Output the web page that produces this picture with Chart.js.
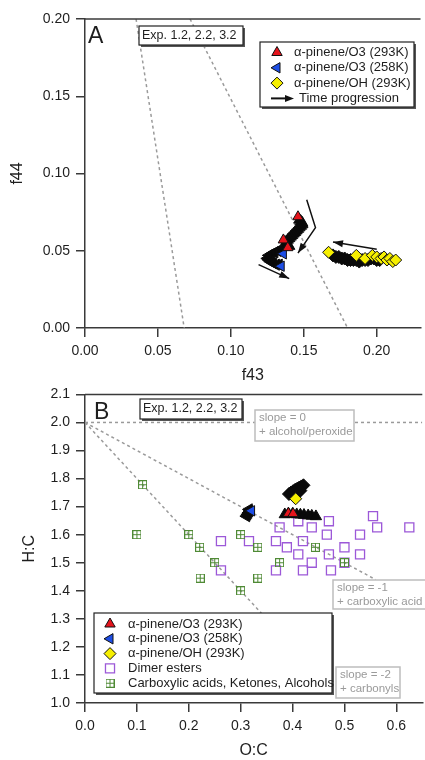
<!DOCTYPE html>
<html>
<head>
<meta charset="utf-8">
<script src="https://cdn.jsdelivr.net/npm/chart.js@4.4.0/dist/chart.umd.min.js"></script>
<style>
  html, body { margin: 0; padding: 0; background: #fff; overflow: hidden; width: 425px; height: 760px; }
  #chartA { position: absolute; left: 0; top: 0; }
  #chartB { position: absolute; left: 0; top: 380px; }
</style>
</head>
<body>
<canvas id="chartA" width="428" height="385"></canvas>
<canvas id="chartB" width="430" height="380"></canvas>
<script>
// ---- Panel A data (f43 vs f44) ----
const f43Ticks = [0, 0.05, 0.10, 0.15, 0.20];
const f44Ticks = [0, 0.05, 0.10, 0.15, 0.20];

const triLeftF43 = [0.035, 0.068];
const triLeftF44 = [0.20, 0.00];
const triRightF43 = [0.072, 0.180];
const triRightF44 = [0.20, 0.00];

// alpha-pinene/O3 293K: dense trace + visible coloured markers
const o3WarmTraceF43 = [0.147, 0.148, 0.149, 0.149, 0.148, 0.147, 0.146, 0.145, 0.144, 0.143, 0.142, 0.141, 0.140, 0.139, 0.138, 0.138, 0.139, 0.140];
const o3WarmTraceF44 = [0.070, 0.069, 0.068, 0.067, 0.066, 0.065, 0.064, 0.063, 0.062, 0.061, 0.060, 0.059, 0.058, 0.057, 0.056, 0.055, 0.054, 0.053];
const o3WarmF43 = [0.146, 0.136, 0.139];
const o3WarmF44 = [0.072, 0.057, 0.052];

// alpha-pinene/O3 258K
const o3ColdTraceF43 = [0.134, 0.132, 0.130, 0.128, 0.126, 0.125, 0.126, 0.127, 0.129, 0.131, 0.133];
const o3ColdTraceF44 = [0.050, 0.050, 0.049, 0.048, 0.047, 0.045, 0.044, 0.043, 0.042, 0.041, 0.041];
const o3ColdF43 = [0.136, 0.1345];
const o3ColdF44 = [0.048, 0.040];

// alpha-pinene/OH 293K
const ohTraceF43 = [0.170, 0.172, 0.174, 0.176, 0.178, 0.180, 0.182, 0.184, 0.186, 0.188, 0.190, 0.192, 0.194, 0.196, 0.198, 0.200, 0.202];
const ohTraceF44 = [0.047, 0.046, 0.046, 0.045, 0.045, 0.044, 0.044, 0.044, 0.044, 0.043, 0.044, 0.044, 0.044, 0.045, 0.045, 0.044, 0.044];
const ohF43 = [0.167, 0.186, 0.192, 0.197, 0.200, 0.203, 0.205, 0.207, 0.209, 0.211, 0.213];
const ohF44 = [0.049, 0.047, 0.045, 0.047, 0.046, 0.045, 0.046, 0.044, 0.045, 0.043, 0.044];

// time progression arrows
const arrowWarmF43 = [0.152, 0.158, 0.146];
const arrowWarmF44 = [0.083, 0.065, 0.0485];
const arrowColdF43 = [0.119, 0.140];
const arrowColdF44 = [0.041, 0.032];
const arrowOhF43 = [0.200, 0.170];
const arrowOhF44 = [0.051, 0.0556];

// ---- Panel B data (O:C vs H:C) ----
const ocTicks = [0, 0.1, 0.2, 0.3, 0.4, 0.5, 0.6];
const hcTicks = [1.0, 1.1, 1.2, 1.3, 1.4, 1.5, 1.6, 1.7, 1.8, 1.9, 2.0, 2.1];

const slope0OC = [0, 0.65];
const slope0HC = [2.0, 2.0];
const slope1OC = [0, 0.56];
const slope1HC = [2.0, 1.44];
const slope2OC = [0, 0.34];
const slope2HC = [2.0, 1.32];

const bWarmTraceOC = [0.385, 0.392, 0.400, 0.408, 0.415, 0.422, 0.430, 0.437, 0.445];
const bWarmTraceHC = [1.672, 1.675, 1.674, 1.672, 1.671, 1.670, 1.668, 1.667, 1.665];
const bWarmOC = [0.392, 0.401];
const bWarmHC = [1.676, 1.675];

const bColdTraceOC = [0.311, 0.313, 0.315, 0.317, 0.316];
const bColdTraceHC = [1.666, 1.672, 1.678, 1.684, 1.690];
const bColdOC = [0.321];
const bColdHC = [1.685];

const bOhTraceOC = [0.393, 0.397, 0.401, 0.405, 0.409, 0.413, 0.417, 0.421, 0.410, 0.415];
const bOhTraceHC = [1.745, 1.750, 1.755, 1.760, 1.764, 1.768, 1.772, 1.776, 1.752, 1.757];
const bOhOC = [0.406];
const bOhHC = [1.728];

const dimerOC = [0.262, 0.262, 0.316, 0.368, 0.368, 0.375, 0.389, 0.411, 0.411, 0.420, 0.420, 0.437,
                 0.437, 0.466, 0.470, 0.470, 0.474, 0.500, 0.500, 0.530, 0.530, 0.555, 0.563, 0.625];
const dimerHC = [1.577, 1.473, 1.577, 1.577, 1.473, 1.626, 1.555, 1.648, 1.530, 1.577, 1.473, 1.626,
                 1.500, 1.600, 1.648, 1.530, 1.473, 1.555, 1.500, 1.600, 1.530, 1.666, 1.626, 1.626];

const acidOC = [0.111, 0.100, 0.200, 0.221, 0.250, 0.222, 0.300, 0.300, 0.333, 0.333, 0.375, 0.444, 0.500];
const acidHC = [1.778, 1.600, 1.600, 1.555, 1.500, 1.445, 1.600, 1.400, 1.555, 1.445, 1.500, 1.555, 1.500];

const seriesNames = ['\u03b1-pinene/O3 (293K)', '\u03b1-pinene/O3 (258K)', '\u03b1-pinene/OH (293K)',
                     'Dimer esters', 'Carboxylic acids, Ketones, Alcohols'];
const expLabel = 'Exp. 1.2, 2.2, 3.2';

// ---- styles ----
const FONT = '"Liberation Sans", Arial, sans-serif';
const INK = '#1e1e1e';
const AXIS = '#3a3a3a';
const DASH = '#9a9a9a';
const RED = '#e5141c';
const BLUE = '#1d4ee6';
const YELLOW = '#f6ef00';
const PURPLE = '#9c58d8';
const GREEN = '#4f8a35';

const pts = (xs, ys) => xs.map((x, i) => ({ x: x, y: ys[i] }));

function boxedPlus(size, color) {
  const c = document.createElement('canvas');
  c.width = size; c.height = size;
  const g = c.getContext('2d');
  g.strokeStyle = color; g.lineWidth = 1;
  g.strokeRect(0.5, 0.5, size - 1, size - 1);
  g.beginPath();
  g.moveTo(size / 2, 0.5); g.lineTo(size / 2, size - 0.5);
  g.moveTo(0.5, size / 2); g.lineTo(size - 0.5, size / 2);
  g.stroke();
  return c;
}
const plusBox = boxedPlus(9, GREEN);

const mk = {
  red:    { pointStyle: 'triangle', radius: 6, rotation: 0,   fill: RED,    stroke: '#111', bw: 1 },
  blue:   { pointStyle: 'triangle', radius: 6, rotation: -90, fill: BLUE,   stroke: '#111', bw: 1 },
  yellow: { pointStyle: 'rectRot',  radius: 6, rotation: 0,   fill: YELLOW, stroke: '#111', bw: 1 },
  purple: { pointStyle: 'rect',     radius: 6.4, rotation: 0, fill: 'rgba(0,0,0,0)', stroke: PURPLE, bw: 1.3 },
  green:  { pointStyle: plusBox,    radius: 5, rotation: 0,   fill: GREEN,  stroke: GREEN, bw: 1 }
};

function scatterSet(data, m) {
  return {
    data: data, showLine: false,
    pointStyle: m.pointStyle, pointRadius: m.radius, pointRotation: m.rotation,
    pointBackgroundColor: m.fill, pointBorderColor: m.stroke, pointBorderWidth: m.bw
  };
}
function traceSet(data, m) {
  return {
    data: data, showLine: false,
    pointStyle: m.pointStyle, pointRadius: m.radius + 0.5, pointRotation: m.rotation,
    pointBackgroundColor: '#0a0a0a', pointBorderColor: '#0a0a0a', pointBorderWidth: 1
  };
}
function lineSet(data, color, width, dash, arrow) {
  return {
    data: data, showLine: true, fill: false, pointRadius: 0,
    borderColor: color, borderWidth: width, borderDash: dash || [], arrow: !!arrow
  };
}

function axis(min, max, vals, digits, title, isY, tpad) {
  return {
    type: 'linear', min: min, max: max,
    afterBuildTicks: s => { s.ticks = vals.map(v => ({ value: v })); },
    afterFit: s => { if (isY) s.width = 85; else s.height = 57; },
    grid: { display: true, drawOnChartArea: false, drawTicks: true, tickLength: 9, color: AXIS, lineWidth: 1.5 },
    border: { display: true, color: AXIS, width: 1.5 },
    ticks: { color: INK, font: { family: FONT, size: 14 }, padding: 6, maxRotation: 0, autoSkip: false,
             callback: v => v.toFixed(digits) },
    title: { display: true, text: title, color: INK, font: { family: FONT, size: 16 },
             padding: { top: tpad, bottom: 0 } }
  };
}

// ---- drawing helpers ----
function drawMarker(ctx, m, x, y) {
  ctx.save();
  ctx.fillStyle = m.fill; ctx.strokeStyle = m.stroke; ctx.lineWidth = m.bw;
  Chart.helpers.drawPoint(ctx, { pointStyle: m.pointStyle, radius: m.radius, rotation: m.rotation, borderWidth: m.bw }, x, y);
  ctx.restore();
}
function drawHead(ctx, x, y, ang, len, half) {
  ctx.save();
  ctx.translate(x, y); ctx.rotate(ang);
  ctx.fillStyle = '#111';
  ctx.beginPath();
  ctx.moveTo(0, 0); ctx.lineTo(-len, -half); ctx.lineTo(-len, half);
  ctx.closePath(); ctx.fill();
  ctx.restore();
}
function shadowBox(ctx, x, y, w, h) {
  ctx.save();
  ctx.fillStyle = '#555';
  ctx.fillRect(x + 2, y + 2, w, h);
  ctx.fillStyle = '#fff';
  ctx.fillRect(x, y, w, h);
  ctx.strokeStyle = '#222'; ctx.lineWidth = 1.2;
  ctx.strokeRect(x, y, w, h);
  ctx.restore();
}
function greyBox(ctx, x, y, w, h, lines) {
  ctx.save();
  ctx.fillStyle = '#fff';
  ctx.fillRect(x, y, w, h);
  ctx.strokeStyle = '#bdbdbd'; ctx.lineWidth = 1.5;
  ctx.strokeRect(x, y, w, h);
  ctx.fillStyle = '#9a9a9a'; ctx.font = '11.5px ' + FONT;
  ctx.textBaseline = 'middle'; ctx.textAlign = 'left';
  lines.forEach((t, i) => ctx.fillText(t, x + 4, y + 8 + i * 13.5));
  ctx.restore();
}
function text(ctx, t, x, y, size) {
  ctx.save();
  ctx.fillStyle = INK; ctx.font = size + 'px ' + FONT;
  ctx.textBaseline = 'middle'; ctx.textAlign = 'left';
  ctx.fillText(t, x, y);
  ctx.restore();
}
function frameTop(ctx, a) {
  ctx.save();
  ctx.strokeStyle = AXIS; ctx.lineWidth = 1.5;
  ctx.beginPath(); ctx.moveTo(a.left, a.top); ctx.lineTo(a.right, a.top); ctx.stroke();
  ctx.restore();
}

// arrowheads at the end of datasets flagged as arrows
const arrowHeads = {
  id: 'arrowHeads',
  afterDatasetsDraw(chart) {
    chart.data.datasets.forEach((ds, i) => {
      if (!ds.arrow) return;
      const p = chart.getDatasetMeta(i).data;
      const a = p[p.length - 2], b = p[p.length - 1];
      drawHead(chart.ctx, b.x, b.y, Math.atan2(b.y - a.y, b.x - a.x), 10, 3.5);
    });
  }
};

const panelA = {
  id: 'panelA',
  afterDraw(chart) {
    const ctx = chart.ctx;
    frameTop(ctx, chart.chartArea);
    text(ctx, 'A', 88, 37, 23);
    shadowBox(ctx, 139, 26, 104, 19);
    text(ctx, expLabel, 142, 35.5, 12.5);
    shadowBox(ctx, 260, 42, 154, 65);
    const rows = [mk.red, mk.blue, mk.yellow];
    rows.forEach((m, i) => {
      drawMarker(ctx, m, 277, 52.5 + i * 15.3);
      text(ctx, seriesNames[i], 294, 52.5 + i * 15.3, 13);
    });
    const ya = 52.5 + 3 * 15.3;
    ctx.save();
    ctx.strokeStyle = '#111'; ctx.lineWidth = 2;
    ctx.beginPath(); ctx.moveTo(271, ya); ctx.lineTo(290, ya); ctx.stroke();
    ctx.restore();
    drawHead(ctx, 294, ya, 0, 9, 3.5);
    text(ctx, 'Time progression', 299, ya, 13);
  }
};

const panelB = {
  id: 'panelB',
  afterDraw(chart) {
    const ctx = chart.ctx;
    frameTop(ctx, chart.chartArea);
    text(ctx, 'B', 94, 33, 23);
    shadowBox(ctx, 140, 19, 102, 20);
    text(ctx, expLabel, 143, 29, 12.5);
    greyBox(ctx, 255, 30, 99, 31, ['slope = 0', '+ alcohol/peroxide']);
    greyBox(ctx, 333, 200, 93, 29, ['slope = -1', '+ carboxylic acid']);
    greyBox(ctx, 336, 287, 64, 31, ['slope = -2', '+ carbonyls']);
    shadowBox(ctx, 94, 233, 238, 80);
    const rows = [mk.red, mk.blue, mk.yellow, mk.purple, mk.green];
    rows.forEach((m, i) => {
      drawMarker(ctx, m, 110, 244 + i * 14.8);
      text(ctx, seriesNames[i], 128, 244 + i * 14.8, 13);
    });
  }
};

const common = {
  responsive: false,
  animation: false,
  plugins: { legend: { display: false }, tooltip: { enabled: false } }
};

new Chart(document.getElementById('chartA'), {
  type: 'scatter',
  data: {
    datasets: [
      lineSet(pts(arrowWarmF43, arrowWarmF44), '#111', 1.5, null, true),
      lineSet(pts(arrowColdF43, arrowColdF44), '#111', 1.5, null, true),
      lineSet(pts(arrowOhF43, arrowOhF44), '#111', 1.5, null, true),
      scatterSet(pts(o3WarmF43, o3WarmF44), mk.red),
      scatterSet(pts(o3ColdF43, o3ColdF44), mk.blue),
      scatterSet(pts(ohF43, ohF44), mk.yellow),
      traceSet(pts(o3WarmTraceF43, o3WarmTraceF44), mk.red),
      traceSet(pts(o3ColdTraceF43, o3ColdTraceF44), mk.blue),
      traceSet(pts(ohTraceF43, ohTraceF44), mk.yellow),
      lineSet(pts(triLeftF43, triLeftF44), DASH, 1.5, [3, 3]),
      lineSet(pts(triRightF43, triRightF44), DASH, 1.5, [3, 3])
    ]
  },
  options: Object.assign({}, common, {
    layout: { padding: { left: 0, top: 19, right: 0, bottom: 0 } },
    scales: {
      x: axis(0, 0.23, f43Ticks, 2, 'f43', false, 0),
      y: axis(0, 0.20, f44Ticks, 2, 'f44', true, 8)
    }
  }),
  plugins: [arrowHeads, panelA]
});

new Chart(document.getElementById('chartB'), {
  type: 'scatter',
  data: {
    datasets: [
      scatterSet(pts(bWarmOC, bWarmHC), mk.red),
      scatterSet(pts(bColdOC, bColdHC), mk.blue),
      scatterSet(pts(bOhOC, bOhHC), mk.yellow),
      traceSet(pts(bWarmTraceOC, bWarmTraceHC), mk.red),
      traceSet(pts(bColdTraceOC, bColdTraceHC), mk.blue),
      traceSet(pts(bOhTraceOC, bOhTraceHC), mk.yellow),
      scatterSet(pts(acidOC, acidHC), mk.green),
      scatterSet(pts(dimerOC, dimerHC), mk.purple),
      lineSet(pts(slope0OC, slope0HC), DASH, 1.5, [3, 3]),
      lineSet(pts(slope1OC, slope1HC), DASH, 1.5, [3, 3]),
      lineSet(pts(slope2OC, slope2HC), DASH, 1.5, [3, 3])
    ]
  },
  options: Object.assign({}, common, {
    layout: { padding: { left: 0, top: 14, right: 0, bottom: 0 } },
    scales: {
      x: axis(0, 0.65, ocTicks, 1, 'O:C', false, 0),
      y: axis(1.0, 2.1, hcTicks, 1, 'H:C', true, 20)
    }
  }),
  plugins: [panelB]
});
</script>
</body>
</html>
